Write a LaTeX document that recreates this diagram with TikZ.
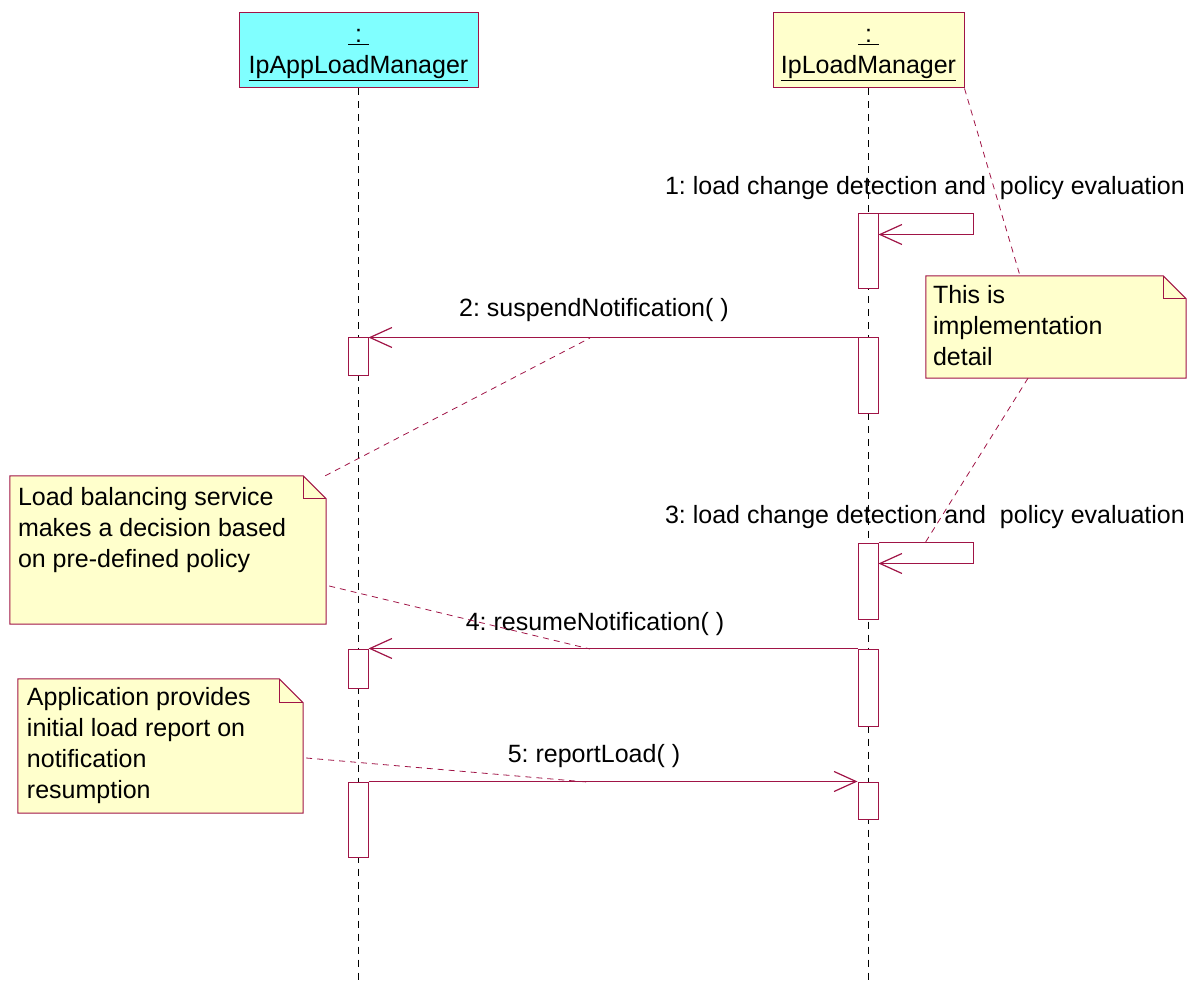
\documentclass[tikz,border=0pt]{standalone}
\usepackage{fontspec}
\setmainfont{Liberation Sans}
\usetikzlibrary{arrows.meta}
\definecolor{umlred}{RGB}{160,20,70}
\definecolor{cyanfill}{RGB}{128,255,255}
\definecolor{notefill}{RGB}{255,255,204}
\newcommand{\colonul}{\underline{\hspace{7pt}:\hspace{7pt}}}
\frenchspacing
\begin{document}
\begin{tikzpicture}[x=1pt,y=-1pt,
  every node/.style={font=\fontsize{25}{31}\selectfont},
  objbox/.style={draw=umlred, line width=1pt, align=center, inner sep=0pt},
  lifeline/.style={draw=black, line width=1pt, dash pattern=on 7pt off 6pt},
  act/.style={draw=umlred, fill=white, line width=1pt, minimum width=20pt, inner sep=0pt},
  msg/.style={draw=umlred, line width=1.1pt, -{Straight Barb[length=22pt,width=20pt,line width=1.2pt]}},
  noteline/.style={draw=umlred, line width=0.8pt, dash pattern=on 6pt off 5pt},
  notebg/.style={draw=umlred, fill=notefill, line width=1pt},
  notefold/.style={draw=umlred, line width=1pt},
  noteshape/.style={inner sep=0pt},
  notetext/.style={anchor=north west, align=left, inner sep=0pt},
  lbl/.style={anchor=base, inner sep=0pt}]
\useasboundingbox (0,0) rectangle (1200,981);

% objects
\node[objbox, fill=cyanfill, minimum width=239pt, minimum height=75pt] (A) at (358.5,50.5) {\rule{0pt}{22pt}\colonul\\\underline{IpAppLoadManager}};
\node[objbox, fill=notefill, minimum width=191pt, minimum height=75pt] (B) at (868.5,50.5) {\rule{0pt}{22pt}\colonul\\\underline{IpLoadManager}};
\coordinate (Aend) at (358,981);
\coordinate (Bend) at (868,981);
\draw[lifeline] (A.south -| Aend) -- (Aend);
\draw[lifeline] (B.south -| Bend) -- (Bend);

% activations
\node[act, minimum height=75pt] (L1) at (868,251.5) {};
\node[act, minimum height=38pt] (A2) at (358,357) {};
\node[act, minimum height=76pt] (L2) at (868,376) {};
\node[act, minimum height=76pt] (L3) at (868,581) {};
\node[act, minimum height=39pt] (A4) at (358,668.5) {};
\node[act, minimum height=77pt] (L4) at (868,687.5) {};
\node[act, minimum height=75pt] (A5) at (358,819.5) {};
\node[act, minimum height=37pt] (L5) at (868,800.5) {};

% messages
\draw[msg] (L1.north east) -- ++(95,0) -- ++(0,21) -- ([yshift=-21pt]L1.north east);
\draw[msg] (L2.north west) -- (A2.north east);
\draw[msg] (L3.north east) -- ++(95,0) -- ++(0,21) -- ([yshift=-21pt]L3.north east);
\draw[msg] (L4.north west) -- (A4.north east);
\draw[msg] (A5.north east) -- (L5.north west);

\node[lbl] (t1) at (925,195) {1: load change detection and\ \ policy evaluation};
\node[lbl] (t2) at (594,317) {2: suspendNotification( )};
\node[lbl] (t3) at (925,523) {3: load change detection and\ \ policy evaluation};
\node[lbl] (t4) at (595,630) {4: resumeNotification( )};
\node[lbl] (t5) at (594,762) {5: reportLoad( )};

% notes
\node[noteshape, minimum width=260pt, minimum height=102pt] (N1) at (1056,327) {};
\filldraw[notebg] (N1.north west) -- ([xshift=-23pt]N1.north east) -- ([yshift=-23pt]N1.north east) -- (N1.south east) -- (N1.south west) -- cycle;
\draw[notefold] ([xshift=-23pt]N1.north east) |- ([yshift=-23pt]N1.north east);
\node[notetext] (N1t) at ([xshift=7pt,yshift=-9pt]N1.north west) {This is\\implementation\\detail};

\node[noteshape, minimum width=316pt, minimum height=148pt] (N2) at (168,550) {};
\filldraw[notebg] (N2.north west) -- ([xshift=-23pt]N2.north east) -- ([yshift=-23pt]N2.north east) -- (N2.south east) -- (N2.south west) -- cycle;
\draw[notefold] ([xshift=-23pt]N2.north east) |- ([yshift=-23pt]N2.north east);
\node[notetext] (N2t) at ([xshift=8pt,yshift=-11pt]N2.north west) {Load balancing service\\makes a decision based\\on pre-defined policy};

\node[noteshape, minimum width=285pt, minimum height=134pt] (N3) at (160.5,746) {};
\filldraw[notebg] (N3.north west) -- ([xshift=-24pt]N3.north east) -- ([yshift=-24pt]N3.north east) -- (N3.south east) -- (N3.south west) -- cycle;
\draw[notefold] ([xshift=-24pt]N3.north east) |- ([yshift=-24pt]N3.north east);
\node[notetext] (N3t) at ([xshift=9pt,yshift=-8pt]N3.north west) {Application provides\\initial load report on\\notification\\resumption};

% note anchors
\coordinate (m2p) at (590,338);
\coordinate (m4p) at (590,649);
\coordinate (m5p) at (587,782);
\coordinate (m3p) at (925,543);
\draw[noteline] (B.south east) -- ([xshift=-36pt]N1.north);
\draw[noteline] ([xshift=-28pt]N1.south) -- (m3p);
\draw[noteline] ([xshift=-1pt]N2.north east) -- (m2p);
\draw[noteline] ([xshift=3pt,yshift=-36pt]N2.east) -- (m4p);
\draw[noteline] ([xshift=3pt,yshift=-12pt]N3.east) -- (m5p);
\end{tikzpicture}
\end{document}
